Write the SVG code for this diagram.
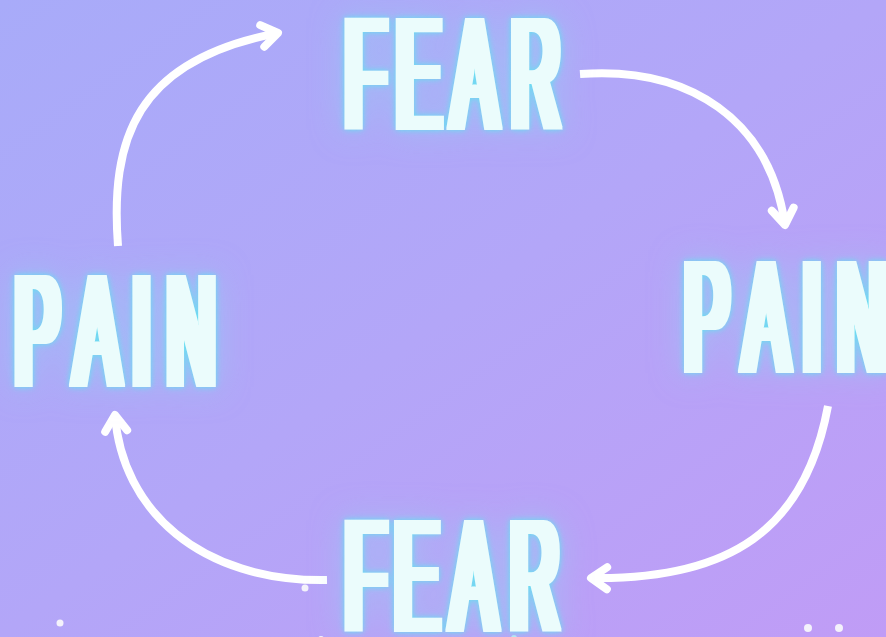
<svg xmlns="http://www.w3.org/2000/svg" width="886" height="637" viewBox="0 0 886 637">
<defs>
<linearGradient id="bg" x1="0" y1="0" x2="1" y2="1">
<stop offset="0" stop-color="#a8abf9"/>
<stop offset="0.5" stop-color="#b3a6f8"/>
<stop offset="1" stop-color="#c09cf6"/>
</linearGradient>
<filter id="neon" x="-30%" y="-40%" width="160%" height="180%" color-interpolation-filters="sRGB">
<feMorphology in="SourceAlpha" operator="dilate" radius="5.5 1" result="thick"/>
<feGaussianBlur in="thick" stdDeviation="16" result="b2"/>
<feFlood flood-color="#8fd6f4" flood-opacity="0.55"/>
<feComposite in2="b2" operator="in" result="g2"/>
<feGaussianBlur in="thick" stdDeviation="3" result="b1"/>
<feFlood flood-color="#62e2f0"/>
<feComposite in2="b1" operator="in" result="g1"/>
<feFlood flood-color="#ebfcfc"/>
<feComposite in2="thick" operator="in" result="solid"/>
<feMerge>
<feMergeNode in="g2"/>
<feMergeNode in="g1"/>
<feMergeNode in="solid"/>
</feMerge>
</filter>
<marker id="ah" markerUnits="userSpaceOnUse" markerWidth="40" markerHeight="40" orient="auto" overflow="visible">
<path d="M-16,-11 L0,0 L-16,11" fill="none" stroke="#ffffff" stroke-width="8" stroke-linecap="round" stroke-linejoin="round"/>
</marker>
<style>
.word{font-family:"Liberation Sans",Arial,sans-serif;font-size:159px;font-weight:400;fill:#ebfcfc}
.arrow{fill:none;stroke:#ffffff;stroke-width:8;stroke-linecap:butt;marker-end:url(#ah)}
.dot{fill:#f4f2fb}
</style>
</defs>
<rect width="886" height="637" fill="url(#bg)"/>
<g id="decor">
<circle class="dot" cx="808" cy="628" r="4"/>
<circle class="dot" cx="839" cy="628" r="4"/>
<circle class="dot" cx="60" cy="623" r="3.5"/>
<circle class="dot" cx="305" cy="588" r="3.5"/>
<circle class="dot" cx="321" cy="639" r="3"/>
<circle cx="514" cy="638" r="3" fill="#bfeaf5"/>
</g>
<g id="connectors">
<path class="arrow" d="M118,246 C110,140 135,60 278,33"/>
<path class="arrow" d="M580,74 C690,66 770,120 785,225"/>
<path class="arrow" d="M828,406 C805,530 730,580 591,578"/>
<path class="arrow" d="M327,580 C200,582 122,510 115,415"/>
</g>
<g id="fear-top" filter="url(#neon)">
<text class="word" transform="scale(0.42,1)" x="821.4 943.3 1076.7 1218.1" y="129">FEAR</text>
</g>
<g id="pain-right" filter="url(#neon)">
<text class="word" transform="scale(0.42,1)" x="1629.5 1770.7 1910.5 1994" y="372">PAIN</text>
</g>
<g id="fear-bottom" filter="url(#neon)">
<text class="word" transform="scale(0.42,1)" x="821.4 939.5 1074.3 1215.7" y="631">FEAR</text>
</g>
<g id="pain-left" filter="url(#neon)">
<text class="word" transform="scale(0.42,1)" x="35.5 177.9 315 397.9" y="386">PAIN</text>
</g>
</svg>
